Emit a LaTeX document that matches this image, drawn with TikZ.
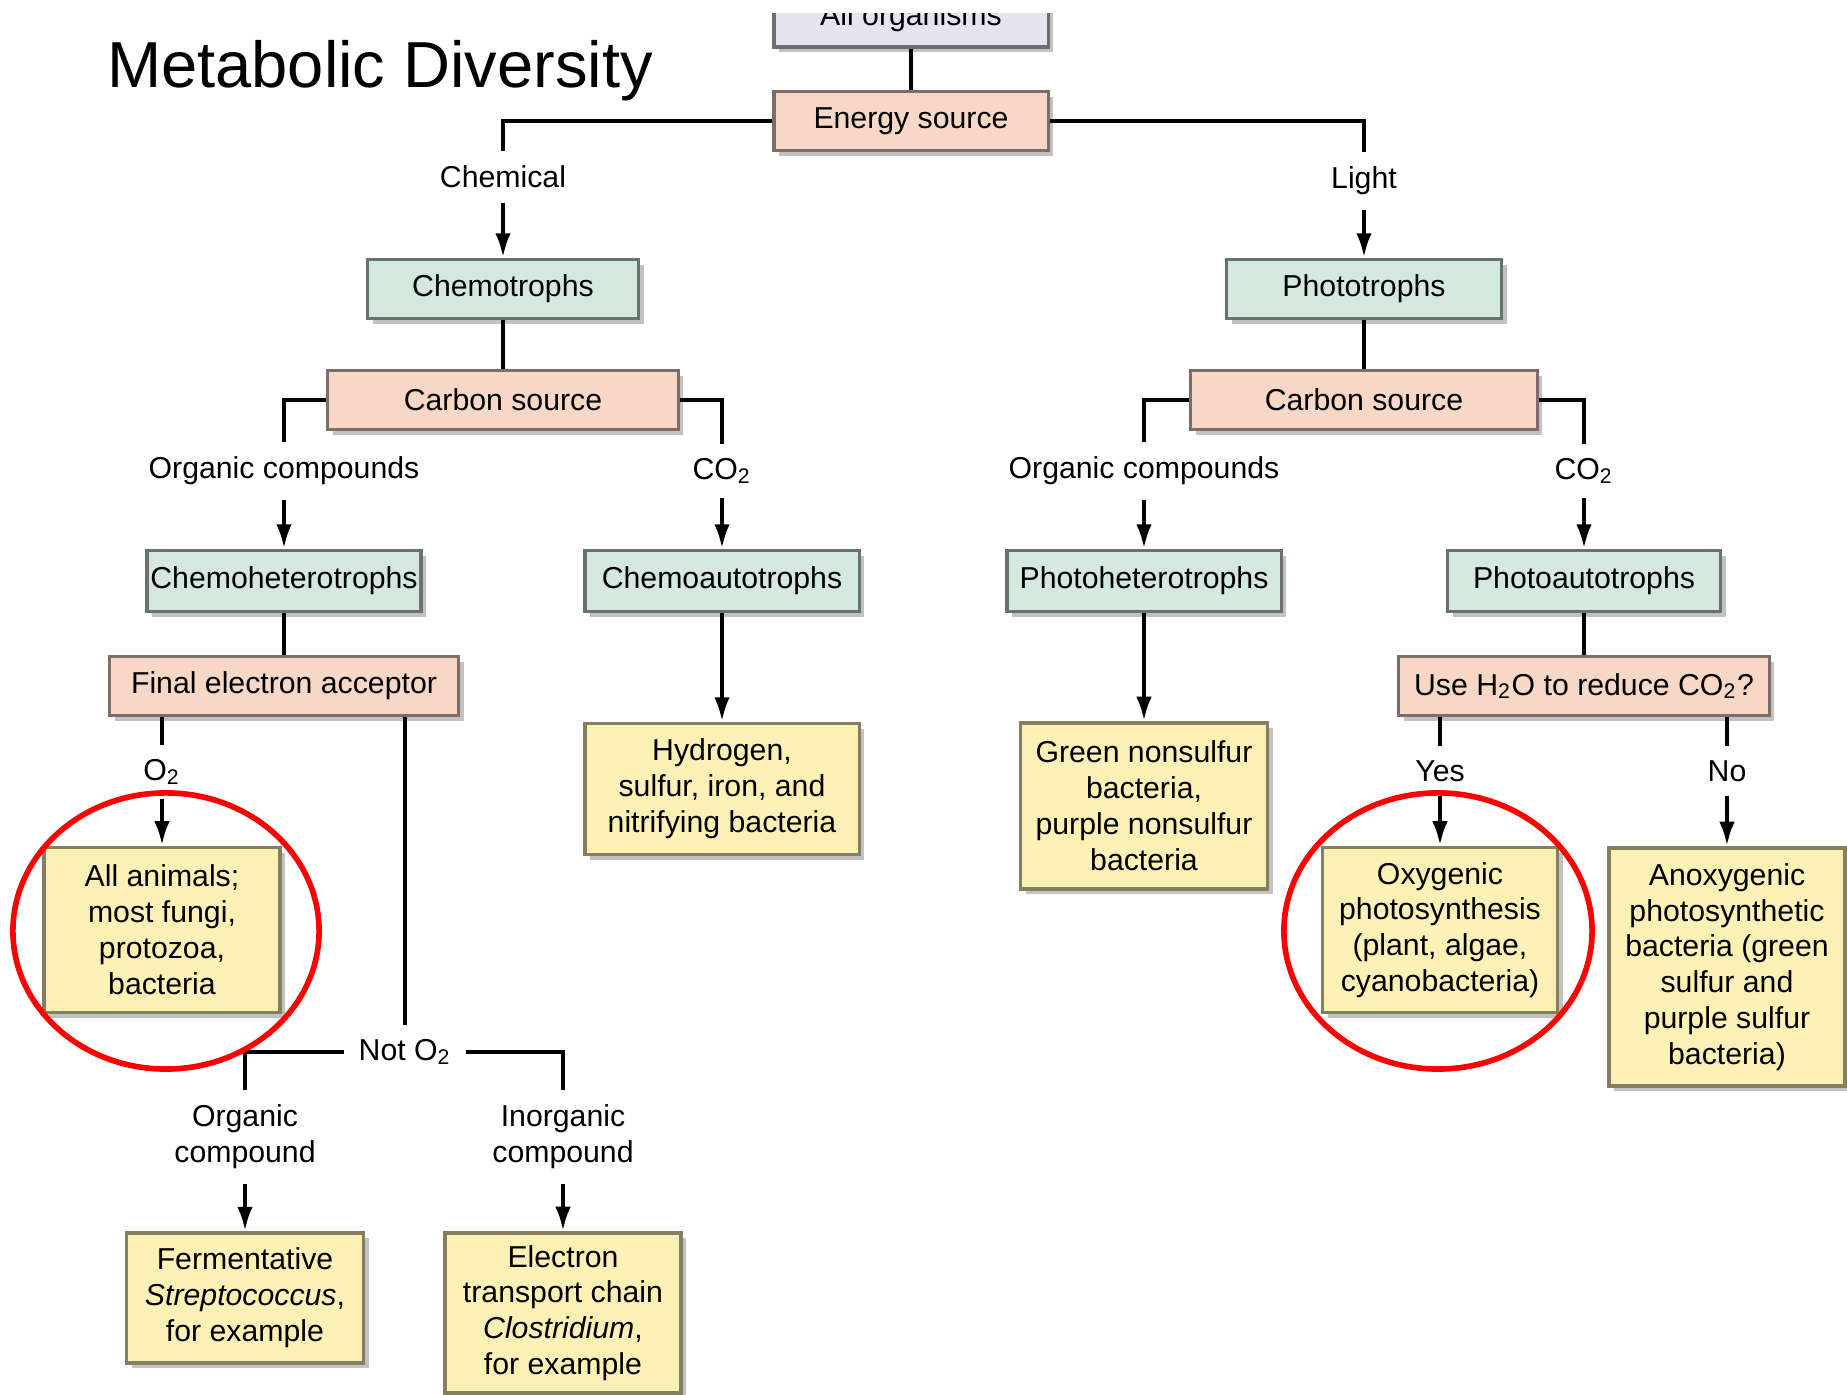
\documentclass[tikz,border=0pt]{standalone}
\usepackage{fontspec}
\setmainfont{Liberation Sans}
\usepackage{xcolor}
\usetikzlibrary{arrows.meta,shadows}

\definecolor{lavend}{HTML}{E7E4F1}
\definecolor{peach}{HTML}{F7D7C6}
\definecolor{mint}{HTML}{D4E8DF}
\definecolor{pale}{HTML}{FCF1B4}
\definecolor{boxline}{HTML}{6E6E6E}
\definecolor{peachline}{HTML}{7D6D67}
\definecolor{mintline}{HTML}{69736E}
\definecolor{paleline}{HTML}{84805F}
\definecolor{shade}{HTML}{C2C2C2}

\newcommand\boxfont{\fontsize{8.6}{10.2}\selectfont}

\tikzset{
  box/.style={draw=boxline, line width=0.9pt, inner sep=0pt, align=center,
    minimum height=0.59cm, font=\boxfont,
    copy shadow={shadow xshift=1.5pt, shadow yshift=-1.5pt, fill=shade, draw=none}},
  pbox/.style={box, fill=peach, draw=peachline},
  gbox/.style={box, fill=mint, draw=mintline, minimum height=0.61cm},
  ybox/.style={box, fill=pale, draw=paleline},
  lbl/.style={font=\boxfont, inner sep=4pt, align=center},
  conn/.style={line width=1.25pt},
  arr/.style={line width=1.25pt, -{Latex[length=7pt,width=4.4pt]}}, % long narrow heads
  ring/.style={red, line width=1.6pt}
}

\begin{document}
\begin{tikzpicture}[x=0.01cm, y=-0.01cm]
\useasboundingbox (0,0) rectangle (1847,1395);

\node[font=\fontsize{18.5}{22}\selectfont] (title) at (380,71) {Metabolic Diversity};

% top box is cut by the page edge
\begin{scope}
  \clip (0,14) rectangle (1847,1395);
  \node[box, fill=lavend, minimum width=2.74cm] (org) at (911,17.5) {All organisms};
\end{scope}
\node[pbox, minimum width=2.74cm] (energy) at (911,121) {Energy source};

\node[lbl] (chemical) at (503,177) {Chemical};
\node[lbl] (light) at (1364,181) {Light};
\node[gbox, minimum width=2.71cm, minimum height=0.59cm] (chemo) at (503,289) {Chemotrophs};
\node[gbox, minimum width=2.75cm, minimum height=0.59cm] (photo) at (1364,289) {Phototrophs};
\node[pbox, minimum width=3.50cm] (csrcL) at (503,400) {Carbon source};
\node[pbox, minimum width=3.46cm] (csrcR) at (1364,400) {Carbon source};

\node[lbl] (orgL) at (284,471) {Organic compounds};
\node[lbl] (co2L) at (722,471) {CO\textsubscript{2}};
\node[lbl] (orgR) at (1144,471) {Organic compounds};
\node[lbl] (co2R) at (1584,471) {CO\textsubscript{2}};

\node[gbox, minimum width=2.74cm] (chemohet) at (284,581) {Chemoheterotrophs};
\node[gbox, minimum width=2.74cm] (chemoaut) at (722,581) {Chemoautotrophs};
\node[gbox, minimum width=2.74cm] (photohet) at (1144,581) {Photoheterotrophs};
\node[gbox, minimum width=2.73cm] (photoaut) at (1584,581) {Photoautotrophs};

\node[pbox, minimum width=3.49cm] (fea) at (284,686) {Final electron acceptor};
\node[pbox, minimum width=3.70cm] (useh2o) at (1584,686) {Use H\textsubscript{2}O to reduce CO\textsubscript{2}?};

\node[lbl] (o2) at (162,772) {O\textsubscript{2}};
\node[lbl] (yes) at (1440,771) {Yes};
\node[lbl] (no) at (1727,771) {No};

\node[ybox, minimum width=2.74cm, minimum height=1.31cm] (hydro) at (722,789) {Hydrogen,\\sulfur, iron, and\\nitrifying bacteria};
\node[ybox, minimum width=2.47cm, minimum height=1.66cm] (greenns) at (1144,806) {Green nonsulfur\\bacteria,\\purple nonsulfur\\bacteria};
\node[ybox, minimum width=2.36cm, minimum height=1.65cm] (animals) at (162,930) {All animals;\\most fungi,\\protozoa,\\bacteria};
\node[ybox, minimum width=2.35cm, minimum height=1.65cm] (oxy) at (1440,930) {Oxygenic\\photosynthesis\\(plant, algae,\\cyanobacteria)};
\node[ybox, minimum width=2.36cm, minimum height=2.38cm] (anoxy) at (1727,967) {Anoxygenic\\photosynthetic\\bacteria (green\\sulfur and\\purple sulfur\\bacteria)};

\node[lbl] (noto2) at (405,1052) {Not O\textsubscript{2}};
\node[lbl] (orgc) at (245,1137) {Organic\\compound};
\node[lbl] (inorgc) at (563,1137) {Inorganic\\compound};
\node[ybox, minimum width=2.37cm, minimum height=1.30cm] (ferm) at (245,1298) {Fermentative\\\textit{Streptococcus},\\for example};
\node[ybox, minimum width=2.36cm, minimum height=1.60cm] (etc) at (563,1313) {Electron\\transport chain\\\textit{Clostridium},\\for example};

% connectors
\draw[conn] (org) -- (energy);
\draw[conn] (energy.west) -| (chemical.north);
\draw[conn] (energy.east) -| (light.north);
\draw[arr] (chemical) -- (chemo);
\draw[arr] (light) -- (photo);
\draw[conn] (chemo) -- (csrcL);
\draw[conn] (photo) -- (csrcR);
\draw[conn] (csrcL.west) -| (orgL.north);
\draw[conn] (csrcL.east) -| (co2L.north);
\draw[conn] (csrcR.west) -| (orgR.north);
\draw[conn] (csrcR.east) -| (co2R.north);
\draw[arr] (orgL) -- (chemohet);
\draw[arr] (co2L) -- (chemoaut);
\draw[arr] (orgR) -- (photohet);
\draw[arr] (co2R) -- (photoaut);
\draw[conn] (chemohet) -- (fea);
\draw[conn] (photoaut) -- (useh2o);
\draw[arr] (chemoaut) -- (hydro);
\draw[arr] (photohet) -- (greenns);
\draw[conn] (fea.south -| o2) -- (o2.north);
\draw[arr] (o2) -- (animals);
\draw[conn] (useh2o.south -| yes) -- (yes.north);
\draw[conn] (useh2o.south -| no) -- (no.north);
\draw[arr] (yes) -- (oxy);
\draw[arr] (no) -- (anoxy);
\draw[conn] (fea.south -| noto2) -- (noto2.north);
\draw[conn] (noto2.west) -| (orgc.north);
\draw[conn] (noto2.east) -| (inorgc.north);
\draw[arr] (orgc) -- (ferm);
\draw[arr] (inorgc) -- (etc);

% red rings
\draw[ring] (166,931) ellipse [x radius=1.53cm, y radius=1.38cm];
\draw[ring] (1438,931) ellipse [x radius=1.54cm, y radius=1.38cm];
\end{tikzpicture}
\end{document}
